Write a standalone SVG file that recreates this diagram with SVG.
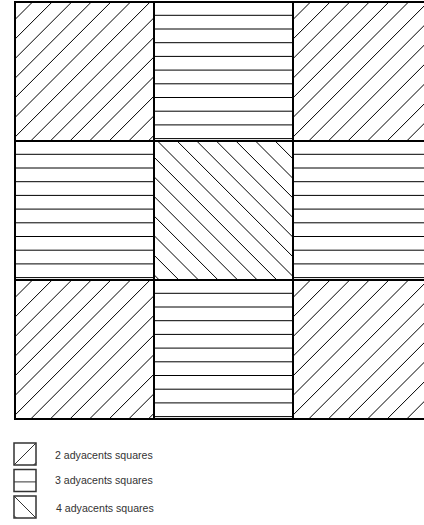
<svg xmlns="http://www.w3.org/2000/svg" xmlns:xlink="http://www.w3.org/1999/xlink" width="424" height="525" viewBox="0 0 424 525">
<style>
.bg{fill:#fff}
.sq{fill:none;stroke:#000;stroke-width:2}
.hl{fill:none;stroke:#000;stroke-width:1}
.lsq{fill:none;stroke:#333;stroke-width:1.5}
.lh{fill:none;stroke:#333;stroke-width:1}
.lbl{font-family:"Liberation Sans",Arial,sans-serif;font-size:10.6px;fill:#333}
</style>
<defs>
<clipPath id="clip"><rect x="0" y="0" width="139" height="139"/></clipPath>
<g id="hatch-fwd" clip-path="url(#clip)">
<path class="hl" d="M17.5,0L0,17.5M37.1,0L0,37.1M56.7,0L0,56.7M76.3,0L0,76.3M95.9,0L0,95.9M115.5,0L0,115.5M135.1,0L0,135.1M154.7,0L0,154.7M174.3,0L0,174.3M193.9,0L0,193.9M213.5,0L0,213.5M233.1,0L0,233.1M252.7,0L0,252.7M272.3,0L0,272.3"/>
</g>
<g id="hatch-back" clip-path="url(#clip)">
<path class="hl" d="M-133.7,0l139,139M-114.1,0l139,139M-94.5,0l139,139M-74.9,0l139,139M-55.3,0l139,139M-35.7,0l139,139M-16.1,0l139,139M3.5,0l139,139M23.1,0l139,139M42.7,0l139,139M62.3,0l139,139M81.9,0l139,139M101.5,0l139,139M121.1,0l139,139"/>
</g>
<g id="hatch-hor" clip-path="url(#clip)">
<path class="hl" d="M0,13.3H139M0,27H139M0,40.7H139M0,54.4H139M0,68.1H139M0,81.8H139M0,95.5H139M0,109.2H139M0,122.9H139M0,136.6H139"/>
</g>
<rect id="frame" class="sq" x="0" y="0" width="139" height="139"/>
</defs>
<rect class="bg" x="0" y="0" width="424" height="525"/>

<g id="sq-r1c1" transform="translate(15,2)"><use xlink:href="#hatch-fwd"/><use xlink:href="#frame"/></g>
<g id="sq-r1c2" transform="translate(154,2)"><use xlink:href="#hatch-hor"/><use xlink:href="#frame"/></g>
<g id="sq-r1c3" transform="translate(293,2)"><use xlink:href="#hatch-fwd"/><use xlink:href="#frame"/></g>
<g id="sq-r2c1" transform="translate(15,141)"><use xlink:href="#hatch-hor"/><use xlink:href="#frame"/></g>
<g id="sq-r2c2" transform="translate(154,141)"><use xlink:href="#hatch-back"/><use xlink:href="#frame"/></g>
<g id="sq-r2c3" transform="translate(293,141)"><use xlink:href="#hatch-hor"/><use xlink:href="#frame"/></g>
<g id="sq-r3c1" transform="translate(15,280)"><use xlink:href="#hatch-fwd"/><use xlink:href="#frame"/></g>
<g id="sq-r3c2" transform="translate(154,280)"><use xlink:href="#hatch-hor"/><use xlink:href="#frame"/></g>
<g id="sq-r3c3" transform="translate(293,280)"><use xlink:href="#hatch-fwd"/><use xlink:href="#frame"/></g>

<g id="legend-2" transform="translate(14,443)">
<path class="lh" d="M0,22L22,0M19.6,22L22,19.6"/>
<rect class="lsq" x="0" y="0" width="22" height="22"/>
<text class="lbl" x="41" y="15.5">2 adyacents squares</text>
</g>
<g id="legend-3" transform="translate(14,469.5)">
<path class="lh" d="M0,12.4H22"/>
<rect class="lsq" x="0" y="0" width="22" height="22"/>
<text class="lbl" x="41" y="14.5">3 adyacents squares</text>
</g>
<g id="legend-4" transform="translate(14,496)">
<path class="lh" d="M0,0L22,22M0,19.6L2.4,22"/>
<rect class="lsq" x="0" y="0" width="22" height="22"/>
<text class="lbl" x="42" y="16">4 adyacents squares</text>
</g>
</svg>
